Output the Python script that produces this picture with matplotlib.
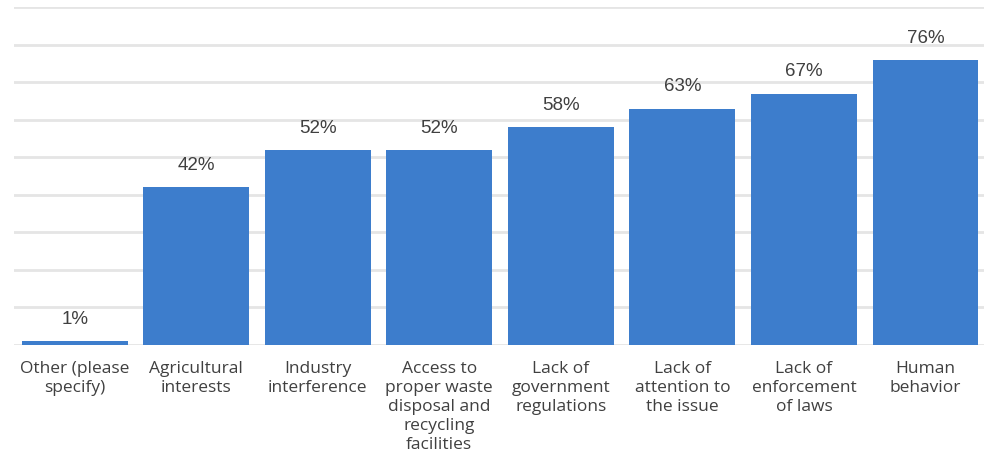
import matplotlib
matplotlib.use('Agg')
import matplotlib.pyplot as plt
import numpy as np

categories = ['Other (please\nspecify)', 'Agricultural\ninterests', 'Industry\ninterference',
              'Access to\nproper waste\ndisposal and\nrecycling\nfacilities',
              'Lack of\ngovernment\nregulations', 'Lack of\nattention to\nthe issue',
              'Lack of\nenforcement\nof laws', 'Human\nbehavior']
values = [1, 42, 52, 52, 58, 63, 67, 76]
value_labels = ['1%', '42%', '52%', '52%', '58%', '63%', '67%', '76%']

bar_color = '#3d7dcc'
grid_color = '#e5e5e5'
text_color = '#404040'

fig = plt.figure(figsize=(9.84, 4.59), dpi=100)
ax = fig.add_axes([0.0142, 0.2484, 0.9880, 0.7356])

x = np.arange(len(categories))
bars = ax.bar(x, values, width=0.87, color=bar_color, zorder=3)

for xi, v, lab in zip(x, values, value_labels):
    ax.annotate(lab, (xi, v), xytext=(0, 9.5), textcoords='offset points',
                ha='center', va='bottom', fontsize=13.5, color=text_color,
                family='Liberation Sans')

ax.set_xlim(-0.5, len(categories) - 0.5)
ax.set_ylim(0, 90)
ax.set_yticks(np.arange(0, 91, 10))
ax.yaxis.grid(True, color=grid_color, linewidth=2, zorder=0)
ax.tick_params(axis='y', left=False, labelleft=False)
ax.set_xticks(x)
ax.set_xticklabels(categories, fontsize=12.5, color=text_color, family='Open Sans',
                   linespacing=1.26)
ax.tick_params(axis='x', bottom=False, pad=8)
for s in ['top', 'right', 'left', 'bottom']:
    ax.spines[s].set_visible(False)

fig.savefig('out.png', dpi=100)
